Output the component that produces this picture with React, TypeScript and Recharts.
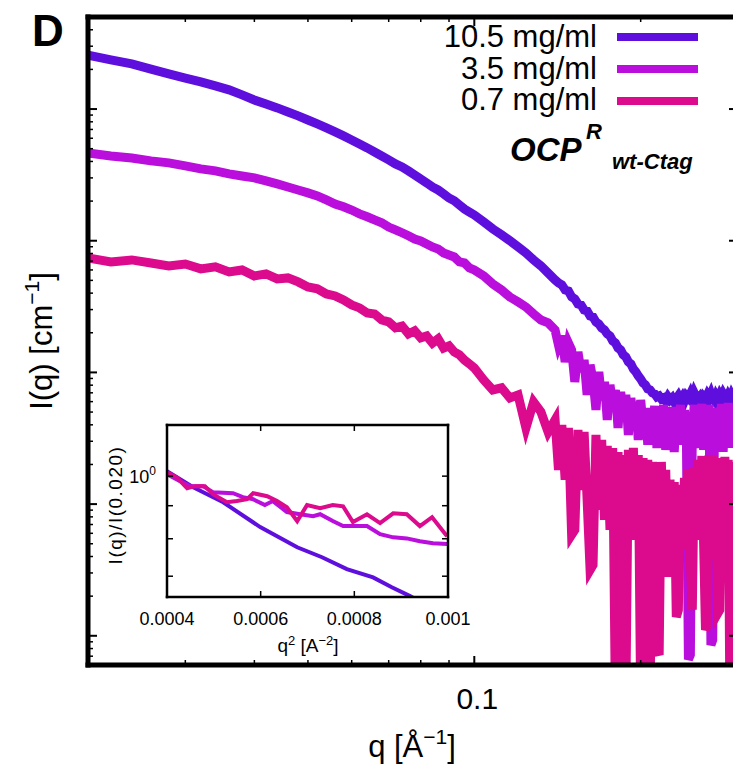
import React from "react";
import { LineChart, Line, XAxis, YAxis, Legend, ReferenceLine } from "recharts";

const FONT = "'Liberation Sans', Arial, Helvetica, sans-serif";

// main panel: q [1/A] on a log axis, I(q) [1/cm] on a log axis
const qValues = [
  0.02, 0.022, 0.024, 0.026, 0.028, 0.03, 0.032, 0.034, 0.036, 0.038,
  0.04, 0.042, 0.044, 0.046, 0.048, 0.05, 0.052, 0.054, 0.056, 0.058,
  0.06, 0.062, 0.064, 0.066, 0.068, 0.07, 0.072, 0.074, 0.076, 0.078,
  0.08, 0.082, 0.084, 0.086, 0.088, 0.09, 0.092, 0.094, 0.096, 0.098,
  0.1, 0.104, 0.108, 0.112, 0.116, 0.12, 0.124, 0.128, 0.132, 0.136,
  0.14, 0.142, 0.144, 0.146, 0.148, 0.15, 0.152, 0.154, 0.156, 0.158,
  0.16, 0.162, 0.164, 0.166, 0.168, 0.17, 0.172, 0.174, 0.176, 0.178,
  0.18, 0.182, 0.184, 0.186, 0.188, 0.19, 0.192, 0.194, 0.196, 0.198,
  0.2, 0.202, 0.204, 0.206, 0.208, 0.21, 0.212, 0.214, 0.216, 0.218,
  0.22, 0.222, 0.224, 0.226, 0.228, 0.23, 0.232, 0.234, 0.236, 0.238,
  0.24, 0.242, 0.244, 0.246, 0.248, 0.25, 0.252, 0.254, 0.256, 0.258,
  0.26, 0.262, 0.264, 0.266, 0.268, 0.27, 0.272, 0.274, 0.276, 0.278,
  0.28, 0.282, 0.284, 0.286, 0.288, 0.29, 0.292, 0.294, 0.296, 0.298,
  0.3,
];

const conc105 = [
  25.7, 23.6, 22.0, 20.1, 18.5, 17.2, 16.1, 15.0, 14.0, 12.8,
  11.7, 10.9, 10.2, 9.5, 8.87, 8.26, 7.71, 7.19, 6.7, 6.25,
  5.83, 5.43, 5.07, 4.72, 4.4, 4.11, 3.83, 3.63, 3.39, 3.16,
  2.94, 2.75, 2.56, 2.43, 2.27, 2.11, 2.01, 1.87, 1.74, 1.65,
  1.57, 1.39, 1.23, 1.11, 1.0, 0.897, 0.808, 0.715, 0.644, 0.569,
  0.504, 0.478, 0.462, 0.423, 0.4156, 0.3744, 0.3615, 0.3313, 0.3255, 0.2983,
  0.2931, 0.2685, 0.2639, 0.2417, 0.2335, 0.2177, 0.2103, 0.196, 0.1893, 0.1734,
  0.1675, 0.1535, 0.1482, 0.1358, 0.1311, 0.1202, 0.116, 0.1063, 0.1009, 0.0941,
  0.0892, 0.0832, 0.0804, 0.0749, 0.0736, 0.0699, 0.0687, 0.0652, 0.0663, 0.0629,
  0.064, 0.0607, 0.0652, 0.0618, 0.064, 0.0597, 0.0629, 0.0663, 0.0618, 0.0652,
  0.0607, 0.0663, 0.064, 0.0687, 0.0629, 0.0699, 0.0652, 0.0607, 0.064, 0.0597,
  0.0652, 0.0629, 0.0675, 0.064, 0.0687, 0.0629, 0.0607, 0.0663, 0.0629, 0.0675,
  0.064, 0.0687, 0.0652, 0.0618, 0.0663, 0.0629, 0.0675, 0.064, 0.0663, 0.0618,
  0.0652,
];

const conc35 = [
  4.64, 4.4, 4.25, 4.04, 3.9, 3.7, 3.51, 3.39, 3.22, 3.1,
  3.0, 2.85, 2.7, 2.56, 2.43, 2.31, 2.19, 2.04, 1.9, 1.81,
  1.71, 1.6, 1.52, 1.44, 1.37, 1.27, 1.21, 1.15, 1.09, 1.03,
  0.997, 0.946, 0.897, 0.866, 0.808, 0.78, 0.753, 0.69, 0.678, 0.622,
  0.6, 0.54, 0.47, 0.423, 0.374, 0.343, 0.314, 0.278, 0.25, 0.238,
  0.2103, 0.1617, 0.1893, 0.1202, 0.1675, 0.1482, 0.0847, 0.1431, 0.1009, 0.1244,
  0.0675, 0.114, 0.0877, 0.0519, 0.1009, 0.0618, 0.0847, 0.0436, 0.0804, 0.0567,
  0.0736, 0.0379, 0.0711, 0.0476, 0.0675, 0.0335, 0.064, 0.0436, 0.0597, 0.0307,
  0.0618, 0.0399, 0.0537, 0.0282, 0.0519, 0.0366, 0.0557, 0.0267, 0.0519, 0.0353,
  0.0567, 0.0258, 0.0501, 0.0318, 0.0547, 0.0249, 0.0519, 0.0366, 0.0567, 0.0282,
  0.0519, 0.0307, 0.00066, 0.000716, 0.0366, 0.0567, 0.0267, 0.0519, 0.0335, 0.0577,
  0.0258, 0.0501, 0.0307, 0.0567, 0.000853, 0.00093, 0.0436, 0.0282, 0.0537, 0.0318,
  0.0577, 0.0249, 0.0519, 0.0335, 0.0587, 0.0267, 0.0537, 0.0366, 0.0567, 0.0282,
  0.0519,
];

const conc07 = [
  0.74, 0.69, 0.715, 0.678, 0.644, 0.666, 0.611, 0.633, 0.58, 0.6,
  0.54, 0.56, 0.513, 0.522, 0.487, 0.446, 0.431, 0.394, 0.381, 0.355,
  0.326, 0.309, 0.283, 0.278, 0.25, 0.242, 0.218, 0.225, 0.196, 0.207,
  0.183, 0.189, 0.167, 0.18, 0.153, 0.159, 0.143, 0.136, 0.124, 0.116,
  0.108, 0.0877, 0.0736, 0.0763, 0.064, 0.0675, 0.0379, 0.0597, 0.0501, 0.0353,
  0.0436, 0.0182, 0.0399, 0.0153, 0.0379, 0.00584, 0.00637, 0.0366, 0.0128, 0.0353,
  0.01076, 0.00316, 0.00345, 0.0335, 0.00904, 0.0307, 0.00759, 0.0277, 0.00637, 0.0267,
  0.000326, 0.0249, 0.000326, 0.0236, 0.000326, 0.0258, 0.00535, 0.0267, 0.00695, 0.0236,
  0.000326, 0.0224, 0.000326, 0.0217, 0.000326, 0.0209, 0.00637, 0.00078, 0.000716, 0.0209,
  0.0049, 0.0182, 0.0028, 0.0153, 0.00535, 0.0147, 0.00139, 0.00157, 0.014, 0.00449,
  0.0158, 0.00637, 0.0182, 0.00377, 0.00157, 0.0188, 0.00535, 0.0217, 0.00695, 0.0232,
  0.0049, 0.00111, 0.00121, 0.0236, 0.00584, 0.0236, 0.00377, 0.0224, 0.00149, 0.00157,
  0.0224, 0.00535, 0.0228, 0.00759, 0.0217, 0.000326, 0.0209, 0.000326, 0.0198, 0.00637,
  0.0217,
];

const mainXTicks = [0.03, 0.04, 0.05, 0.06, 0.07, 0.08, 0.09, 0.1, 0.2];
const mainYTicks = [
  0.0006, 0.0007, 0.0008, 0.0009, 0.001, 0.002, 0.003, 0.004, 0.005, 0.006,
  0.007, 0.008, 0.009, 0.01, 0.02, 0.03, 0.04, 0.05, 0.06, 0.07, 0.08, 0.09,
  0.1, 0.2, 0.3, 0.4, 0.5, 0.6, 0.7, 0.8, 0.9, 1, 2, 3, 4, 5, 6, 7, 8, 9,
  10, 20, 30, 40,
];

// inset: I(q)/I(0.020) against q^2
const inset105Q2 = [0.0004, 0.000456, 0.00052, 0.000599, 0.000678, 0.000731, 0.000784, 0.00084, 0.00088, 0.000919, 0.000951];
const inset105I = [1.018, 0.961, 0.911, 0.834, 0.776, 0.749, 0.718, 0.697, 0.673, 0.652, 0.633];

const inset35Q2 = [
  0.0004, 0.000428, 0.000449, 0.000477, 0.000498, 0.000541, 0.000562, 0.000584,
  0.000609, 0.000626, 0.000656, 0.000684, 0.000712, 0.000727, 0.000754, 0.000776,
  0.000797, 0.000827, 0.000855, 0.000883, 0.000912, 0.00094, 0.000968, 0.000998,
];
const inset35I = [
  1.007, 0.982, 0.965, 0.965, 0.944, 0.941, 0.928, 0.921,
  0.902, 0.915, 0.88, 0.873, 0.867, 0.873, 0.852, 0.837,
  0.837, 0.837, 0.813, 0.804, 0.801, 0.793, 0.787, 0.785,
];

const inset07Q2 = [
  0.0004, 0.000421, 0.000443, 0.00046, 0.000481, 0.000498, 0.000528, 0.000549,
  0.000571, 0.000584, 0.000614, 0.000635, 0.000656, 0.000678, 0.000699, 0.000727,
  0.000754, 0.000776, 0.000797, 0.000827, 0.000855, 0.000883, 0.000912, 0.00094,
  0.000966, 0.000998,
];
const inset07I = [
  1.014, 0.996, 0.958, 0.965, 0.965, 0.938, 0.911, 0.915,
  0.921, 0.941, 0.931, 0.915, 0.895, 0.852, 0.902, 0.892,
  0.902, 0.898, 0.849, 0.873, 0.846, 0.876, 0.873, 0.837,
  0.864, 0.807,
];

const insetXTicks = [0.0004, 0.0006, 0.0008, 0.001];
const insetYTicks = [0.7, 0.8, 0.9, 1];

const series = [
  { key: "c105", label: "10.5 mg/ml", color: "#5e0fde", values: conc105, inQ2: inset105Q2, inI: inset105I },
  { key: "c35", label: "3.5 mg/ml", color: "#b90edc", values: conc35, inQ2: inset35Q2, inI: inset35I },
  { key: "c07", label: "0.7 mg/ml", color: "#dc0a8c", values: conc07, inQ2: inset07Q2, inI: inset07I },
];

const mainRows = qValues.map((q, i) => {
  const row: Record<string, number> = { q };
  series.forEach((s) => (row[s.key] = s.values[i]));
  return row;
});

const pairs = (xs: number[], ys: number[]) => xs.map((x, i) => ({ x, y: ys[i] }));

// plot boxes (chart-local px)
const MAIN = { left: 88, right: 738, top: 17, bottom: 665 };
const INSET = { left: 77, right: 358, top: 10, bottom: 182 };

const isDecade = (v: number) => {
  const l = Math.log10(v);
  return Math.abs(l - Math.round(l)) < 1e-6;
};

const MainYTick = (props: any) => {
  const { y, payload } = props;
  const len = isDecade(payload.value) ? 9 : 5;
  const w = isDecade(payload.value) ? 2 : 1.5;
  return (
    <g>
      <line x1={MAIN.left} x2={MAIN.left + len} y1={y} y2={y} stroke="#000" strokeWidth={w} />
      <line x1={MAIN.right} x2={MAIN.right - len} y1={y} y2={y} stroke="#000" strokeWidth={w} />
    </g>
  );
};

const MainXTick = (props: any) => {
  const { x, payload } = props;
  const major = isDecade(payload.value);
  const len = major ? 9 : 5;
  const w = major ? 2 : 1.5;
  return (
    <g>
      <line x1={x} x2={x} y1={MAIN.bottom} y2={MAIN.bottom - len} stroke="#000" strokeWidth={w} />
      <line x1={x} x2={x} y1={MAIN.top} y2={MAIN.top + len} stroke="#000" strokeWidth={w} />
      {major && (
        <text x={x + 3} y={709} textAnchor="middle" fontSize={30} fontFamily={FONT} fill="#000">
          {payload.value}
        </text>
      )}
    </g>
  );
};

const MainXTitle = () => (
  <text x={412} y={757} textAnchor="middle" fontSize={31} fontFamily={FONT} fill="#000">
    q [Å
    <tspan dy={-13} fontSize={21}>−1</tspan>
    <tspan dy={13}>]</tspan>
  </text>
);

const MainYTitle = () => (
  <text x={52} y={341} textAnchor="middle" fontSize={31} fontFamily={FONT} fill="#000" transform="rotate(-90 52 341)">
    I(q) [cm
    <tspan dy={-13} fontSize={21}>−1</tspan>
    <tspan dy={13}>]</tspan>
  </text>
);

const InsetXTick = (props: any) => {
  const { x, payload } = props;
  return (
    <g>
      <line x1={x} x2={x} y1={INSET.bottom} y2={INSET.bottom - 6} stroke="#000" strokeWidth={1.5} />
      <line x1={x} x2={x} y1={INSET.top} y2={INSET.top + 6} stroke="#000" strokeWidth={1.5} />
      <text x={x} y={210} textAnchor="middle" fontSize={18} fontFamily={FONT} fill="#000">
        {payload.value}
      </text>
    </g>
  );
};

const InsetYTick = (props: any) => {
  const { y, payload } = props;
  return (
    <g>
      <line x1={INSET.left} x2={INSET.left + 6} y1={y} y2={y} stroke="#000" strokeWidth={1.5} />
      <line x1={INSET.right} x2={INSET.right - 6} y1={y} y2={y} stroke="#000" strokeWidth={1.5} />
      {payload.value === 1 && (
        <text x={66} y={y + 7} textAnchor="end" fontSize={18} fontFamily={FONT} fill="#000">
          10
          <tspan dy={-8} fontSize={12}>0</tspan>
        </text>
      )}
    </g>
  );
};

const InsetXTitle = () => (
  <text x={218} y={237} textAnchor="middle" fontSize={19} fontFamily={FONT} fill="#000">
    q<tspan dy={-7} fontSize={13}>2</tspan>
    <tspan dy={7}> [A</tspan>
    <tspan dy={-7} fontSize={13}>−2</tspan>
    <tspan dy={7}>]</tspan>
  </text>
);

const InsetYTitle = () => (
  <text x={32} y={90} textAnchor="middle" fontSize={19} letterSpacing={1.5} fontFamily={FONT} fill="#000" transform="rotate(-90 32 90)">
    I(q)/I(0.020)
  </text>
);

const LegendBox = () => (
  <svg width={340} height={185} style={{ display: "block", overflow: "visible" }}>
    {series.map((s, i) => (
      <g key={s.key}>
        <text x={197} y={47 + i * 31.5} textAnchor="end" fontSize={31} fontFamily={FONT} fill="#000">
          {s.label}
        </text>
        <line x1={217} x2={298} y1={37 + i * 32} y2={37 + i * 32} stroke={s.color} strokeWidth={8} />
      </g>
    ))}
    <text x={110} y={161} fontSize={33} fontWeight="bold" fontStyle="italic" fontFamily={FONT} fill="#000">
      OCP
    </text>
    <text x={186} y={139} fontSize={22} fontWeight="bold" fontStyle="italic" fontFamily={FONT} fill="#000">
      R
    </text>
    <text x={212} y={169} fontSize={22} fontWeight="bold" fontStyle="italic" fontFamily={FONT} fill="#000">
      wt-Ctag
    </text>
  </svg>
);

const Inset = () => (
  <LineChart width={392} height={250} margin={{ top: 10, right: 34, bottom: 0, left: 0 }}>
    <XAxis
      dataKey="x"
      type="number"
      domain={[0.0004, 0.001]}
      allowDataOverflow
      ticks={insetXTicks}
      interval={0}
      tick={InsetXTick}
      tickLine={false}
      height={68}
      axisLine={{ stroke: "#000", strokeWidth: 2.5, strokeLinecap: "square" }}
      label={<InsetXTitle />}
    />
    <YAxis
      type="number"
      scale="log"
      domain={[0.65, 1.2]}
      allowDataOverflow
      ticks={insetYTicks}
      interval={0}
      tick={InsetYTick}
      tickLine={false}
      width={77}
      axisLine={{ stroke: "#000", strokeWidth: 2.5, strokeLinecap: "square" }}
      label={<InsetYTitle />}
    />
    {series.map((s) => (
      <Line
        key={s.key}
        data={pairs(s.inQ2, s.inI)}
        dataKey="y"
        type="linear"
        stroke={s.color}
        strokeWidth={4}
        dot={false}
        activeDot={false}
        isAnimationActive={false}
      />
    ))}
    <ReferenceLine y={1.2} stroke="#000" strokeWidth={2.5} strokeLinecap="square" />
    <ReferenceLine x={0.001} stroke="#000" strokeWidth={2.5} strokeLinecap="square" />
  </LineChart>
);

export default function App() {
  return (
    <div style={{ position: "absolute", left: 0, top: 0, width: 733, height: 771, overflow: "hidden", background: "#fff" }}>
      <div style={{ position: "absolute", left: 0, top: 0 }}>
        <LineChart width={745} height={771} data={mainRows} margin={{ top: 17, right: 7, bottom: 0, left: 0 }}>
          <XAxis
            dataKey="q"
            type="number"
            scale="log"
            domain={[0.02, 0.3]}
            allowDataOverflow
            ticks={mainXTicks}
            interval={0}
            tick={MainXTick}
            tickLine={false}
            height={106}
            axisLine={{ stroke: "#000", strokeWidth: 5, strokeLinecap: "square" }}
            label={<MainXTitle />}
          />
          <YAxis
            type="number"
            scale="log"
            domain={[0.0006, 50]}
            allowDataOverflow
            ticks={mainYTicks}
            interval={0}
            tick={MainYTick}
            tickLine={false}
            width={88}
            axisLine={{ stroke: "#000", strokeWidth: 5, strokeLinecap: "square" }}
            label={<MainYTitle />}
          />
          <Legend
            layout="horizontal"
            verticalAlign="middle"
            align="right"
            content={<LegendBox />}
            wrapperStyle={{ position: "absolute", left: 400, top: 0, width: 0, height: 0, overflow: "visible" }}
          />
          {series.map((s) => (
            <Line
              key={s.key}
              dataKey={s.key}
              type="linear"
              stroke={s.color}
              strokeWidth={9}
              dot={false}
              activeDot={false}
              isAnimationActive={false}
            />
          ))}
          <ReferenceLine y={50} stroke="#000" strokeWidth={5} strokeLinecap="square" />
          <ReferenceLine x={0.3} stroke="#000" strokeWidth={5} strokeLinecap="square" />
        </LineChart>
      </div>
      <div style={{ position: "absolute", left: 90, top: 415 }}>
        <Inset />
      </div>
      <svg width={80} height={60} style={{ position: "absolute", left: 0, top: 0 }}>
        <text x={32} y={46} fontSize={44} fontWeight="bold" fontFamily={FONT} fill="#000">
          D
        </text>
      </svg>
    </div>
  );
}
